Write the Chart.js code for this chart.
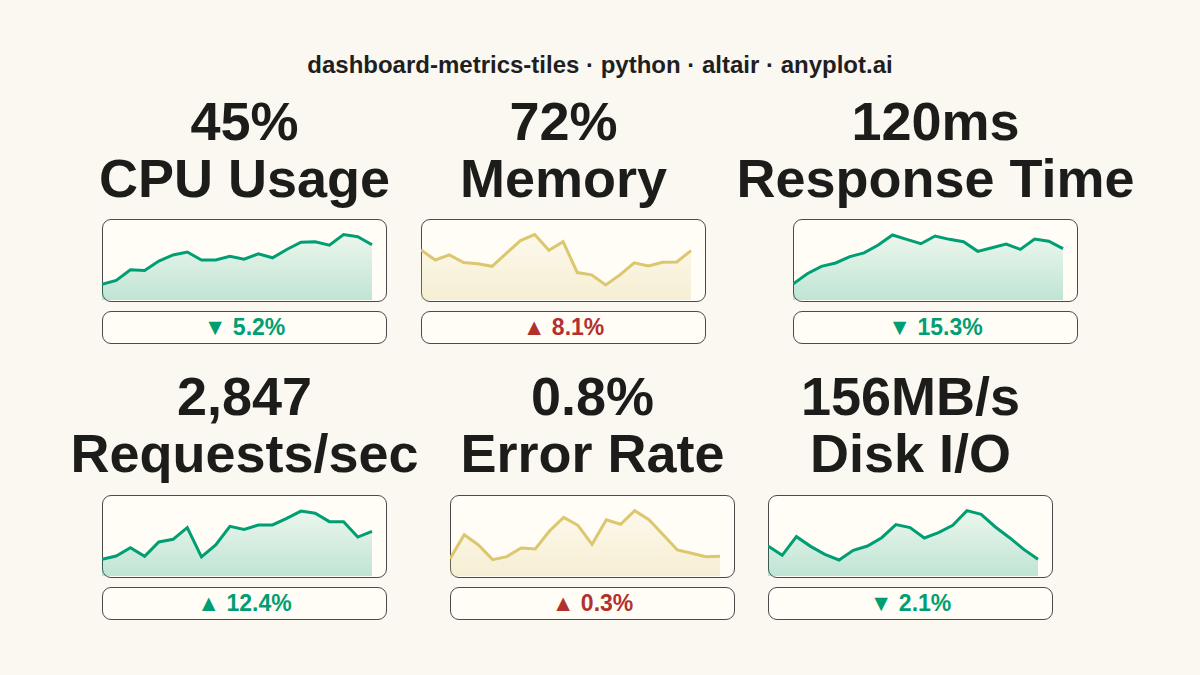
<!DOCTYPE html>
<html>
<head>
<meta charset="utf-8">
<script src="https://cdn.jsdelivr.net/npm/chart.js@4.4.1/dist/chart.umd.min.js"></script>
<style>
  body { margin: 0; background: #FAF8F1; font-family: "Liberation Sans", Arial, sans-serif; }
  #page { position: relative; width: 1200px; height: 675px; overflow: hidden; }
  .title { position: absolute; left: 0; width: 1200px; top: 53px; text-align: center;
           font-size: 24px; line-height: 24px; font-weight: bold; color: #1f1f1f; }
  .big { position: absolute; width: 500px; text-align: center; font-size: 54px;
         font-weight: bold; color: #1c1c1a; white-space: nowrap; }
  .box { position: absolute; width: 285px; box-sizing: border-box; border: 1.5px solid #4a4a4a;
         border-radius: 9px; background: #FFFDF6; }
  .delta { display: flex; align-items: center; justify-content: center; height: 33px;
           font-size: 23px; line-height: 23px; font-weight: bold; }
  .spark { position: absolute; width: 285px; }
</style>
</head>
<body>
<div id="page">
  <div class="title">dashboard-metrics-tiles · python · altair · anyplot.ai</div>
</div>
<script>
const tileNames = ['CPU Usage', 'Memory', 'Response Time', 'Requests/sec', 'Error Rate', 'Disk I/O'];
const tileValues = ['45%', '72%', '120ms', '2,847', '0.8%', '156MB/s'];
const tileDeltas = ['▼ 5.2%', '▲ 8.1%', '▼ 15.3%', '▲ 12.4%', '▲ 0.3%', '▼ 2.1%'];
const tileStatus = ['good', 'warn', 'good', 'good', 'warn', 'good'];

const steps = ['1', '2', '3', '4', '5', '6', '7', '8', '9', '10',
               '11', '12', '13', '14', '15', '16', '17', '18', '19', '20'];

const cpuValues = [34.3, 35.4, 38.3, 38.1, 40.7, 42.4, 43.2, 41.0, 41.0, 42.0,
                   41.2, 42.7, 41.6, 43.9, 45.9, 46.0, 45.1, 48.0, 47.4, 45.2];
const memoryValues = [72.5, 69.0, 70.8, 68.1, 67.7, 66.8, 71.3, 75.8, 77.9, 72.4,
                      75.4, 64.6, 63.8, 60.3, 63.8, 68.0, 66.9, 68.2, 68.3, 72.3];
const responseValues = [92.4, 100.4, 106.1, 108.7, 113.6, 116.5, 122.6, 130.4, 127.0, 123.6,
                        129.6, 127.0, 125.2, 117.7, 120.5, 123.4, 119.2, 127.3, 125.5, 119.8];
const requestValues = [2317, 2380, 2539, 2374, 2647, 2698, 2919, 2362, 2590, 2944,
                       2887, 2970, 2970, 3096, 3235, 3192, 3033, 3033, 2741, 2849];
const errorValues = [0.757, 1.112, 0.960, 0.742, 0.787, 0.915, 0.900, 1.167, 1.369, 1.251,
                     0.969, 1.334, 1.266, 1.468, 1.334, 1.112, 0.885, 0.836, 0.787, 0.792];
const diskValues = [199.9, 168.9, 231.2, 198.8, 172.1, 153.5, 185.6, 199.9, 227.7, 271.2,
                    261.2, 226.6, 244.5, 269.0, 317.9, 305.5, 263.4, 227.7, 188.8, 155.6];

const yMin = [30, 55, 80, 2000, 0.5, 100];
const yMax = [52, 83, 142, 3540, 1.7, 370];

const allSeries = [cpuValues, memoryValues, responseValues, requestValues, errorValues, diskValues];

// layout
const tileLeft = [102, 421, 793, 102, 450, 768];
const rows = [
    { head: 93, lineH: 57, box: 219, chart: 220, chartH: 80, delta: 311 },
    { head: 368, lineH: 57, box: 495, chart: 495, chartH: 81, delta: 587 }
];
const lineColor = { good: '#009E73', warn: '#DCC66E' };
const fillRgb = { good: '0,158,115', warn: '220,198,110' };
const deltaColor = { good: '#009E73', warn: '#B3302E' };

const page = document.getElementById('page');

function addDiv(cls, css, text) {
    const d = document.createElement('div');
    d.className = cls;
    Object.assign(d.style, css);
    if (text) d.textContent = text;
    page.appendChild(d);
    return d;
}

tileNames.forEach(function (name, i) {
    const row = rows[i < 3 ? 0 : 1];
    const left = tileLeft[i];
    const center = left + 142.5;
    const status = tileStatus[i];

    // value and label as one two-line heading
    const head = addDiv('big', { left: (center - 250) + 'px', top: row.head + 'px', lineHeight: row.lineH + 'px' });
    head.appendChild(document.createTextNode(tileValues[i]));
    head.appendChild(document.createElement('br'));
    head.appendChild(document.createTextNode(name));

    addDiv('box', { left: left + 'px', top: row.box + 'px', height: '83px' });
    addDiv('box delta', { left: left + 'px', top: row.delta + 'px', color: deltaColor[status] }, tileDeltas[i]);

    const wrap = addDiv('spark', { left: left + 'px', top: row.chart + 'px', height: row.chartH + 'px' });
    const canvas = document.createElement('canvas');
    wrap.appendChild(canvas);

    new Chart(canvas, {
        type: 'line',
        data: {
            labels: steps,
            datasets: [{
                data: allSeries[i],
                borderColor: lineColor[status],
                borderWidth: 3,
                pointRadius: 0,
                tension: 0,
                fill: 'start',
                backgroundColor: function (ctx) {
                    const area = ctx.chart.chartArea;
                    if (!area) return 'rgba(' + fillRgb[status] + ',0.1)';
                    const g = ctx.chart.ctx.createLinearGradient(0, area.top, 0, area.bottom);
                    g.addColorStop(0, 'rgba(' + fillRgb[status] + ',0.03)');
                    g.addColorStop(1, 'rgba(' + fillRgb[status] + ',0.25)');
                    return g;
                }
            }]
        },
        options: {
            responsive: true,
            maintainAspectRatio: false,
            animation: false,
            layout: { padding: { left: 0, right: 15, top: 0, bottom: 0 } },
            plugins: { legend: { display: false }, tooltip: { enabled: false } },
            scales: {
                x: { display: false },
                y: { display: false, min: yMin[i], max: yMax[i] }
            }
        }
    });
});
</script>
</body>
</html>
